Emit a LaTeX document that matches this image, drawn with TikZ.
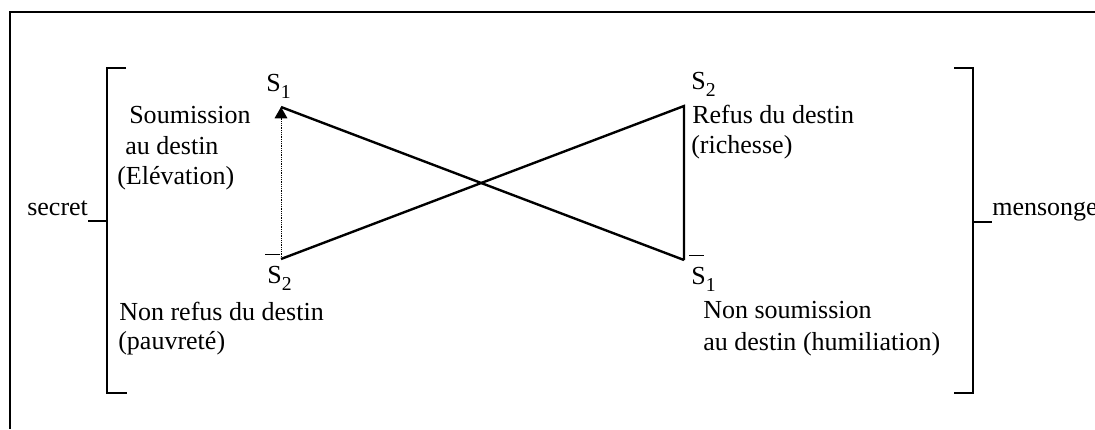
\documentclass[tikz,border=0pt]{standalone}
\usepackage{fontspec}
\setmainfont{Liberation Serif}
\usepackage{tikz}
\usetikzlibrary{arrows.meta}

\newcommand{\subidx}[1]{\raisebox{-0.3em}{\fontsize{14}{14}\selectfont #1}}
\newcommand{\barS}{\makebox[0pt][l]{\hspace{-0.08em}\raisebox{1.08em}{\rule{0.55em}{1pt}}}S}

\begin{document}
\begin{tikzpicture}[
  x=0.025cm, y=-0.025cm,
  font=\fontsize{18.5}{22}\selectfont,
  >={Triangle[width=9pt, length=8pt]},
  lbl/.style={anchor=base west, inner sep=0pt},
  edge/.style={line width=1.7pt},
  brk/.style={line width=1.9pt},
]
  \useasboundingbox (0,0) rectangle (1095,429);
  % ── Frame (open on the right and bottom) ──
  \draw[brk] (1095,12) -- (10,12) -- (10,429);
  % ── Vertices of the crossed figure ──
  \coordinate (v1) at (281,107);
  \coordinate (v2) at (281,259);
  \coordinate (v3) at (684,106);
  \coordinate (v4) at (684,260);
  % ── Vertex labels ──
  \node[lbl] (s1top) at (266,91)  {S\subidx{1}};
  \node[lbl] (s2top) at (691,89)  {S\subidx{2}};
  \node[lbl] (s2bot) at (267,283) {\barS\subidx{2}};
  \node[lbl] (s1bot) at (691,284) {\barS\subidx{1}};
  % ── Side texts ──
  \node[lbl] (soum1) at (129,123) {Soumission};
  \node[lbl] (soum2) at (125,154) {au destin};
  \node[lbl] (soum3) at (117,184) {(Elévation)};
  \node[lbl] (refus1) at (692,123) {Refus du destin};
  \node[lbl] (refus2) at (691,153) {(richesse)};
  \node[lbl] (nref1) at (119,320) {Non refus du destin};
  \node[lbl] (nref2) at (118,349) {(pauvreté)};
  \node[lbl] (nsoum1) at (703,318) {Non soumission};
  \node[lbl] (nsoum2) at (703,350) {au destin (humiliation)};
  \node[lbl] (secret) at (27,215)  {secret};
  \node[lbl] (mens)   at (992,215) {mensonge};
  % ── Brackets ──
  \draw[brk] (126,68) -- (107,68) -- (107,393) -- (127,393);
  \draw[brk] (88,221) -- (107,221);
  \draw[brk] (954,68) -- (973,68) -- (973,393) -- (954,393);
  \draw[brk] (973,222) -- (992,222);
  % ── Crossed lines ──
  \draw[edge] (v1) -- (v4);
  \draw[edge] (v2) -- (v3) -- (v4);
  \draw[->, line width=0.7pt, dash pattern=on 0.8pt off 0.8pt] (v2) -- (v1);
\end{tikzpicture}
\end{document}
